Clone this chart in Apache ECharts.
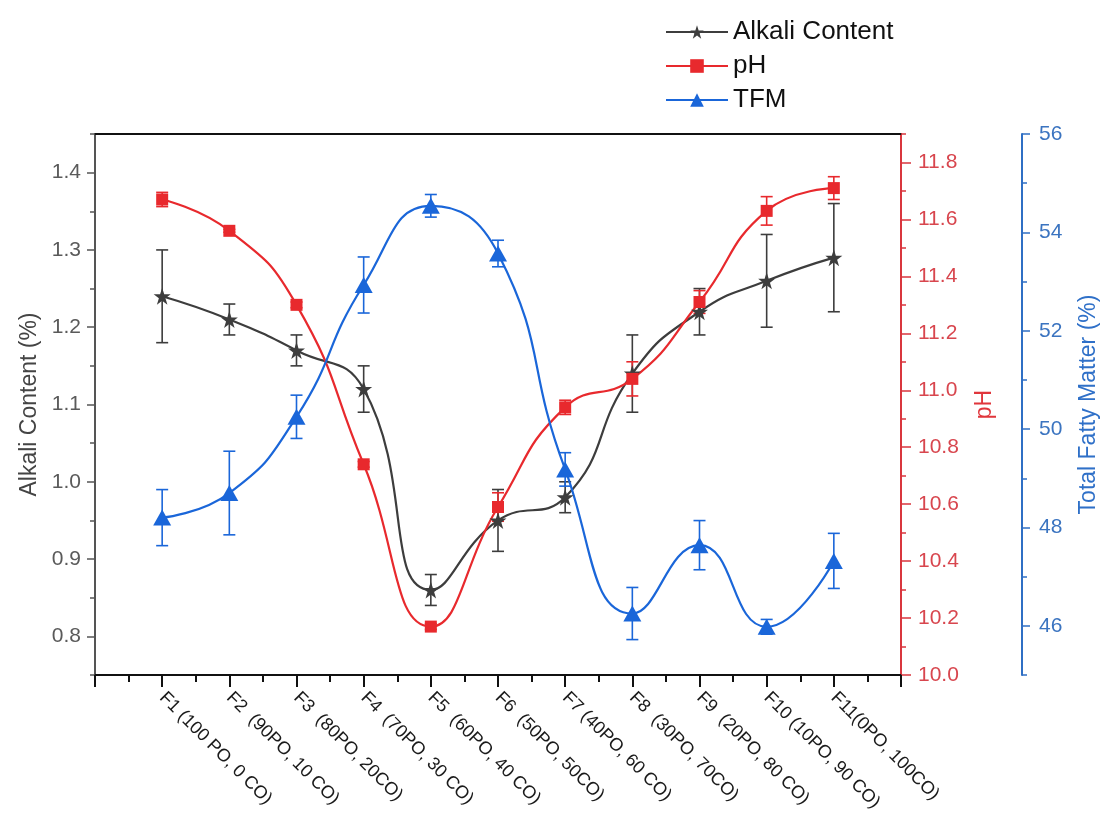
<!DOCTYPE html>
<html>
<head>
<meta charset="utf-8">
<script src="https://cdn.jsdelivr.net/npm/echarts@6/dist/echarts.min.js"></script>
<style>
  html, body { margin: 0; padding: 0; background: #fff; }
  #chart { width: 1108px; height: 821px; }
</style>
</head>
<body>
<div id="chart"></div>
<script>
// Formulations: palm oil (PO) / coconut oil (CO) blends
const categories = [
  'F1 (100 PO, 0 CO)',
  'F2  (90PO, 10 CO)',
  'F3  (80PO, 20CO)',
  'F4  (70PO, 30 CO)',
  'F5  (60PO, 40 CO)',
  'F6  (50PO, 50CO)',
  'F7 (40PO, 60 CO)',
  'F8  (30PO, 70CO)',
  'F9  (20PO, 80 CO)',
  'F10 (10PO, 90 CO)',
  'F11(0PO, 100CO)'
];

// Alkali content (%) with standard deviation
const alkali    = [1.24, 1.21, 1.17, 1.12, 0.86, 0.95, 0.98, 1.14, 1.22, 1.26, 1.29];
const alkaliErr = [0.06, 0.02, 0.02, 0.03, 0.02, 0.04, 0.02, 0.05, 0.03, 0.06, 0.07];

// pH with standard deviation
const ph    = [11.67, 11.56, 11.30, 10.74, 10.17, 10.59, 10.94, 11.04, 11.31, 11.63, 11.71];
const phErr = [0.025, 0.005, 0.01, 0.01, 0.01, 0.05, 0.025, 0.06, 0.04, 0.05, 0.04];

// Total fatty matter (%) with standard deviation
const tfm    = [48.20, 48.70, 50.25, 52.93, 54.54, 53.57, 49.18, 46.25, 47.64, 45.98, 47.32];
const tfmErr = [0.57, 0.85, 0.44, 0.57, 0.23, 0.27, 0.34, 0.53, 0.50, 0.15, 0.56];

// Axis tick values (major, labelled) and minor ticks
const alkaliTicks = [0.8, 0.9, 1.0, 1.1, 1.2, 1.3, 1.4];
const alkaliMinor = [0.75, 0.85, 0.95, 1.05, 1.15, 1.25, 1.35, 1.45];
const phTicks = [10.0, 10.2, 10.4, 10.6, 10.8, 11.0, 11.2, 11.4, 11.6, 11.8];
const phMinor = [10.1, 10.3, 10.5, 10.7, 10.9, 11.1, 11.3, 11.5, 11.7, 11.9];
const tfmTicks = [46, 48, 50, 52, 54, 56];
const tfmMinor = [45, 47, 49, 51, 53, 55];

const GREY = '#3d3d3d';
const RED = '#e8292d';
const BLUE = '#1a66d9';
const FONT = "'Liberation Sans', Arial, sans-serif";

const xy = (vals) => vals.map((v, i) => [i + 1, v]);

function errorBars(name, values, errs, color, yIndex) {
  return {
    name: name + ' error',
    type: 'custom',
    yAxisIndex: yIndex,
    z: 1,
    silent: true,
    data: values.map((v, i) => [i + 1, v - errs[i], v + errs[i]]),
    encode: { x: 0, y: [1, 2] },
    renderItem(params, api) {
      const x = api.value(0);
      const lo = api.coord([x, api.value(1)]);
      const hi = api.coord([x, api.value(2)]);
      const w = 6;
      const style = { stroke: color, lineWidth: 1.6 };
      return {
        type: 'group',
        children: [
          { type: 'line', shape: { x1: lo[0], y1: lo[1], x2: hi[0], y2: hi[1] }, style },
          { type: 'line', shape: { x1: lo[0] - w, y1: lo[1], x2: lo[0] + w, y2: lo[1] }, style },
          { type: 'line', shape: { x1: hi[0] - w, y1: hi[1], x2: hi[0] + w, y2: hi[1] }, style }
        ]
      };
    }
  };
}

// Twin axis that only draws the short minor ticks
function minorAxis(min, max, position, offset, values, color) {
  return {
    type: 'value', min, max, position, offset,
    axisLine: { show: false, onZero: false },
    axisLabel: { show: false },
    splitLine: { show: false },
    axisTick: { show: true, customValues: values, length: 5, lineStyle: { color, width: 1.5 } }
  };
}

const STAR = 'path://M50,0 L61.8,35.1 L98.9,35.1 L68.9,56.8 L80.3,91.9 L50,70.2 L19.7,91.9 L31.1,56.8 L1.1,35.1 L38.2,35.1 Z';

const chart = echarts.init(document.getElementById('chart'), null, { renderer: 'canvas' });

chart.setOption({
  animation: false,
  backgroundColor: '#fff',
  textStyle: { fontFamily: FONT },
  grid: { left: 95, right: 203, top: 134, bottom: 146 },
  legend: {
    orient: 'vertical',
    left: 660,
    top: 14,
    itemWidth: 62,
    itemHeight: 17,
    itemGap: 8,
    textStyle: { fontSize: 26, color: '#111', fontFamily: FONT },
    data: ['Alkali Content', 'pH', 'TFM']
  },
  xAxis: [
    {
      type: 'value', min: 0, max: 12, interval: 1,
      axisLine: { show: true, onZero: false, lineStyle: { color: '#111', width: 2 } },
      axisTick: { show: true, length: 12, lineStyle: { color: '#111', width: 2 } },
      minorTick: { show: true, splitNumber: 2, length: 7, lineStyle: { color: '#111', width: 2 } },
      splitLine: { show: false },
      axisLabel: {
        rotate: -45, fontSize: 18, color: '#1a1a1a', margin: 20,
        formatter: (v) => categories[v - 1] || ''
      }
    },
    {
      type: 'value', min: 0, max: 12, position: 'top',
      axisLine: { show: true, onZero: false, lineStyle: { color: '#111', width: 2 } },
      axisTick: { show: false }, axisLabel: { show: false }, splitLine: { show: false }
    }
  ],
  yAxis: [
    {
      type: 'value', min: 0.75, max: 1.45, position: 'left',
      name: 'Alkali Content (%)', nameLocation: 'middle', nameGap: 50,
      nameTextStyle: { fontSize: 23, color: '#444' },
      axisLine: { show: true, onZero: false, lineStyle: { color: '#555', width: 2 } },
      axisTick: { show: true, customValues: alkaliTicks, length: 8, lineStyle: { color: '#555', width: 1.5 } },
      axisLabel: { customValues: alkaliTicks, formatter: (v) => v.toFixed(1), fontSize: 21, color: '#5a5a5a', margin: 14 },
      splitLine: { show: false }
    },
    {
      type: 'value', min: 10.0, max: 11.9, position: 'right', offset: 0,
      name: 'pH', nameLocation: 'middle', nameGap: 72,
      nameTextStyle: { fontSize: 23, color: '#e0363c' },
      axisLine: { show: true, onZero: false, lineStyle: { color: '#d9363e', width: 2 } },
      axisTick: { show: true, customValues: phTicks, length: 10, lineStyle: { color: '#d9363e', width: 1.5 } },
      axisLabel: { customValues: phTicks, formatter: (v) => v.toFixed(1), fontSize: 21, color: '#d8464e', margin: 17 },
      splitLine: { show: false }
    },
    {
      type: 'value', min: 45, max: 56, position: 'right', offset: 121,
      name: 'Total Fatty Matter (%)', nameLocation: 'middle', nameGap: 55,
      nameTextStyle: { fontSize: 23, color: '#2f70c8' },
      axisLine: { show: true, onZero: false, lineStyle: { color: '#2f6fc4', width: 2 } },
      axisTick: { show: true, customValues: tfmTicks, length: 8, lineStyle: { color: '#2f6fc4', width: 1.5 } },
      axisLabel: { customValues: tfmTicks, formatter: (v) => String(v), fontSize: 21, color: '#3b74c0', margin: 17 },
      splitLine: { show: false }
    },
    minorAxis(0.75, 1.45, 'left', 0, alkaliMinor, '#555'),
    minorAxis(10.0, 11.9, 'right', 0, phMinor, '#d9363e'),
    minorAxis(45, 56, 'right', 121, tfmMinor, '#2f6fc4')
  ],
  series: [
    errorBars('Alkali Content', alkali, alkaliErr, GREY, 0),
    errorBars('pH', ph, phErr, RED, 1),
    errorBars('TFM', tfm, tfmErr, BLUE, 2),
    {
      name: 'Alkali Content', type: 'line', yAxisIndex: 0, z: 3,
      data: xy(alkali), smooth: 0.5,
      symbol: STAR, symbolSize: 17,
      lineStyle: { color: GREY, width: 2.2 },
      itemStyle: { color: GREY }
    },
    {
      name: 'pH', type: 'line', yAxisIndex: 1, z: 3,
      data: xy(ph), smooth: 0.5,
      symbol: 'rect', symbolSize: 12,
      lineStyle: { color: RED, width: 2.2 },
      itemStyle: { color: RED }
    },
    {
      name: 'TFM', type: 'line', yAxisIndex: 2, z: 3,
      data: xy(tfm), smooth: 0.5,
      symbol: 'triangle', symbolSize: [18, 16],
      lineStyle: { color: BLUE, width: 2.2 },
      itemStyle: { color: BLUE }
    }
  ]
});
</script>
</body>
</html>
